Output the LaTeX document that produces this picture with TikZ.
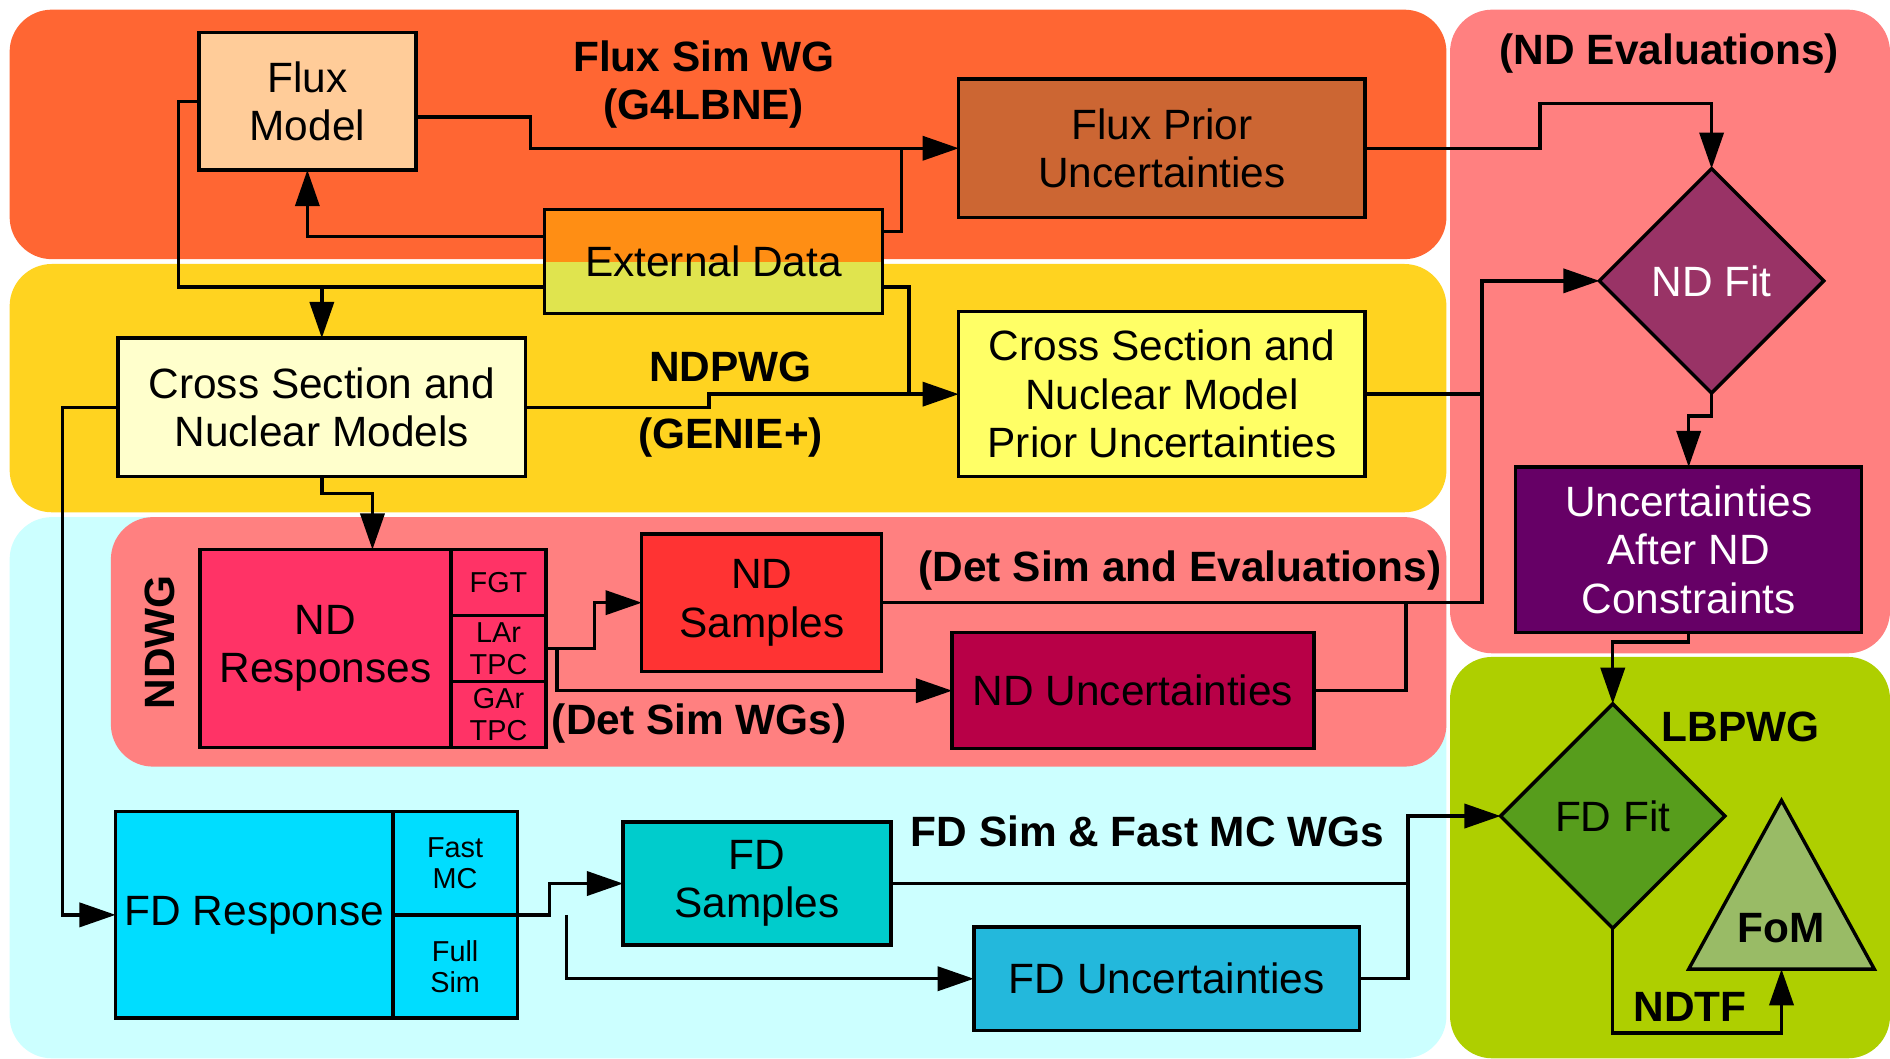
\documentclass[tikz,border=0pt]{standalone}
\usepackage{fontspec}
\setmainfont{Liberation Sans}
\usetikzlibrary{arrows.meta,shapes.geometric,calc}

\definecolor{fluxbg}{RGB}{255,102,51}
\definecolor{ndpbg}{RGB}{255,211,32}
\definecolor{simbg}{RGB}{204,255,255}
\definecolor{ndbg}{RGB}{255,128,128}
\definecolor{lbpbg}{RGB}{174,207,0}
\definecolor{fluxfill}{RGB}{255,204,153}
\definecolor{priorfill}{RGB}{204,102,51}
\definecolor{exttop}{RGB}{255,142,20}
\definecolor{extbot}{RGB}{224,228,78}
\definecolor{xsecfill}{RGB}{255,255,204}
\definecolor{xpriorfill}{RGB}{255,255,102}
\definecolor{ndfitfill}{RGB}{153,51,102}
\definecolor{afterfill}{RGB}{102,0,102}
\definecolor{ndrespfill}{RGB}{255,51,102}
\definecolor{ndsampfill}{RGB}{255,51,51}
\definecolor{nduncfill}{RGB}{184,0,71}
\definecolor{fdrespfill}{RGB}{0,221,255}
\definecolor{fdsampfill}{RGB}{0,204,204}
\definecolor{fduncfill}{RGB}{35,184,220}
\definecolor{fdfitfill}{RGB}{87,157,28}
\definecolor{fomfill}{RGB}{153,187,102}

\begin{document}
\begin{tikzpicture}[x=0.01cm,y=-0.01cm,thick,
        font=\fontsize{10}{11.4}\selectfont,
        box/.style={draw,rectangle,align=center,inner sep=0pt,outer sep=0pt},
        sub/.style={box,font=\fontsize{6.8}{7.4}\selectfont},
        decision/.style={draw,diamond,aspect=1,inner sep=0pt,outer sep=0pt,minimum width=1.86cm,minimum height=1.86cm},
        wg/.style={font=\fontsize{10}{11.4}\selectfont\bfseries,align=center},
        arr/.style={-{Triangle[length=0.3cm,width=0.2cm]}},
        region/.style={rounded corners=0.35cm}]

        \useasboundingbox (0,0) rectangle (1568,878);

        % working group areas
        \fill[fluxbg,region] (8,8) rectangle (1200,215);
        \fill[ndpbg,region] (8,219) rectangle (1200,425);
        \fill[simbg,region] (8,429) rectangle (1200,878);
        \fill[ndbg,region] (92,429) rectangle (1200,636);
        \fill[ndbg,region] (1203,8) rectangle (1568,542);
        \fill[lbpbg,region] (1203,545) rectangle (1568,878);

        % boxes
        \node[box,fill=fluxfill,minimum width=1.80cm,minimum height=1.14cm] (flux) at (255,84) {Flux\\Model};
        \node[box,fill=priorfill,minimum width=3.37cm,minimum height=1.15cm] (fluxprior) at (964,123) {Flux Prior\\Uncertainties};
        \node[box,fill=exttop,minimum width=2.80cm,minimum height=0.86cm,
              path picture={\fill[extbot] (path picture bounding box.south west) rectangle (path picture bounding box.east);}] (extdata) at (592,217) {External Data};
        \node[box,fill=xsecfill,minimum width=3.38cm,minimum height=1.15cm] (xsec) at (267,338) {Cross Section and\\Nuclear Models};
        \node[box,fill=xpriorfill,minimum width=3.37cm,minimum height=1.37cm] (xsecprior) at (964,327) {Cross Section and\\Nuclear Model\\Prior Uncertainties};
        \node[decision,fill=ndfitfill,text=white] (ndfit) at (1420,233) {ND Fit};
        \node[box,fill=afterfill,text=white,minimum width=2.87cm,minimum height=1.37cm] (afternd) at (1401,456) {Uncertainties\\After ND\\Constraints};

        \node[box,fill=ndrespfill,minimum width=2.08cm,minimum height=1.64cm] (ndresp) at (270,538) {ND\\Responses};
        \node[sub,fill=ndrespfill,minimum width=0.79cm,minimum height=0.547cm,anchor=north west] (fgt) at (ndresp.north east) {FGT};
        \node[sub,fill=ndrespfill,minimum width=0.79cm,minimum height=0.547cm,anchor=north] (lartpc) at (fgt.south) {LAr\\TPC};
        \node[sub,fill=ndrespfill,minimum width=0.79cm,minimum height=0.547cm,anchor=north] (gartpc) at (lartpc.south) {GAr\\TPC};
        \node[box,fill=ndsampfill,minimum width=1.99cm,minimum height=1.14cm] (ndsamp) at (632,500) {ND\\Samples};
        \node[box,fill=nduncfill,minimum width=3.00cm,minimum height=0.96cm] (ndunc) at (940,573) {ND Uncertainties};

        \node[box,fill=fdrespfill,minimum width=2.30cm,minimum height=1.71cm] (fdresp) at (211,759) {FD Response};
        \node[sub,fill=fdrespfill,minimum width=1.03cm,minimum height=0.855cm,anchor=north west] (fastmc) at (fdresp.north east) {Fast\\MC};
        \node[sub,fill=fdrespfill,minimum width=1.03cm,minimum height=0.855cm,anchor=north] (fullsim) at (fastmc.south) {Full\\Sim};
        \node[box,fill=fdsampfill,minimum width=2.22cm,minimum height=1.02cm] (fdsamp) at (628,733) {FD\\Samples};
        \node[box,fill=fduncfill,minimum width=3.20cm,minimum height=0.86cm] (fdunc) at (968,812) {FD Uncertainties};
        \node[decision,fill=fdfitfill] (fdfit) at (1338,677) {FD Fit};

        \filldraw[fill=fomfill] (1478,664) -- (1555,804) -- (1401,804) -- cycle;
        \coordinate (fombase) at (1478,804);
        \node[wg] (fom) at (1478,770) {FoM};

        % group labels
        \node[wg] (fluxwg) at (584,70) {Flux Sim WG\\(G4LBNE)};
        \node[wg] (ndpwg) at (606,304) {NDPWG};
        \node[wg] (genie) at (606,363) {(GENIE+)};
        \node[wg] (ndeval) at (1385,44) {(ND Evaluations)};
        \node[wg,rotate=90] (ndwg) at (133,533) {NDWG};
        \node[wg] (detsimeval) at (979,473) {(Det Sim and Evaluations)};
        \node[wg] (detsim) at (580,600) {(Det Sim WGs)};
        \node[wg] (fdsim) at (952,690) {FD Sim \& Fast MC WGs};
        \node[wg] (lbpwg) at (1444,603) {LBPWG};
        \node[wg] (ndtf) at (1402,835) {NDTF};

        % flux and cross section inputs
        \draw[arr] ($(flux.east)+(0,13)$) -- ++(95,0) |- (fluxprior.west);
        \draw ($(extdata.east)+(0,-25)$) -- ++(16,0) |- ($(fluxprior.west)+(-48,0)$);
        \draw[arr] ($(extdata.west)+(0,-21)$) -| (flux.south);
        \draw ($(extdata.west)+(0,21)$) coordinate (e1) -| ($(flux.west)+(-17,0)$) -- (flux.west);
        \draw[arr] (xsec.north |- e1) -- (xsec.north);
        \draw[arr] ($(extdata.east)+(0,21)$) -- ++(22,0) |- (xsecprior.west);
        \draw (xsec.east) -- ++(152,0) |- ($(xsecprior.west)+(-42,0)$);

        % near detector
        \draw[arr] (xsecprior.east) -- ++(97,0) coordinate (g1) |- (ndfit.west);
        \draw[arr] (fluxprior.east) -- ++(145,0) |- ($(ndfit.north)+(0,-54)$) -- (ndfit.north);
        \draw[arr] (ndfit.south) -- ++(0,19) -| (afternd.north);
        \draw[arr] (afternd.south) -- ++(0,8) -| (fdfit.north);
        \draw[arr] (xsec.south) -- ++(0,14) -| ($(ndresp.north)+(39,0)$);
        \draw[arr] (lartpc.east) -- ++(40,0) |- (ndsamp.west);
        \draw[arr] ($(lartpc.east)+(9,0)$) |- (ndunc.west);
        \draw (ndsamp.east) -| (g1);
        \draw (ndunc.east) -| ($(ndsamp.east)+(435,0)$);

        % far detector
        \draw[arr] (xsec.west) -- ++(-46,0) |- (fdresp.west);
        \draw[arr] (fastmc.south east) -- ++(27,0) |- (fdsamp.west);
        \draw[arr] ($(fastmc.south east)+(41,0)$) |- (fdunc.west);
        \draw[arr] (fdsamp.east) -- ++(429,0) coordinate (q1) |- (fdfit.west);
        \draw (fdunc.east) -| (q1);
        \draw[arr] (fdfit.south) -- ++(0,87) -| (fombase);

\end{tikzpicture}
\end{document}
